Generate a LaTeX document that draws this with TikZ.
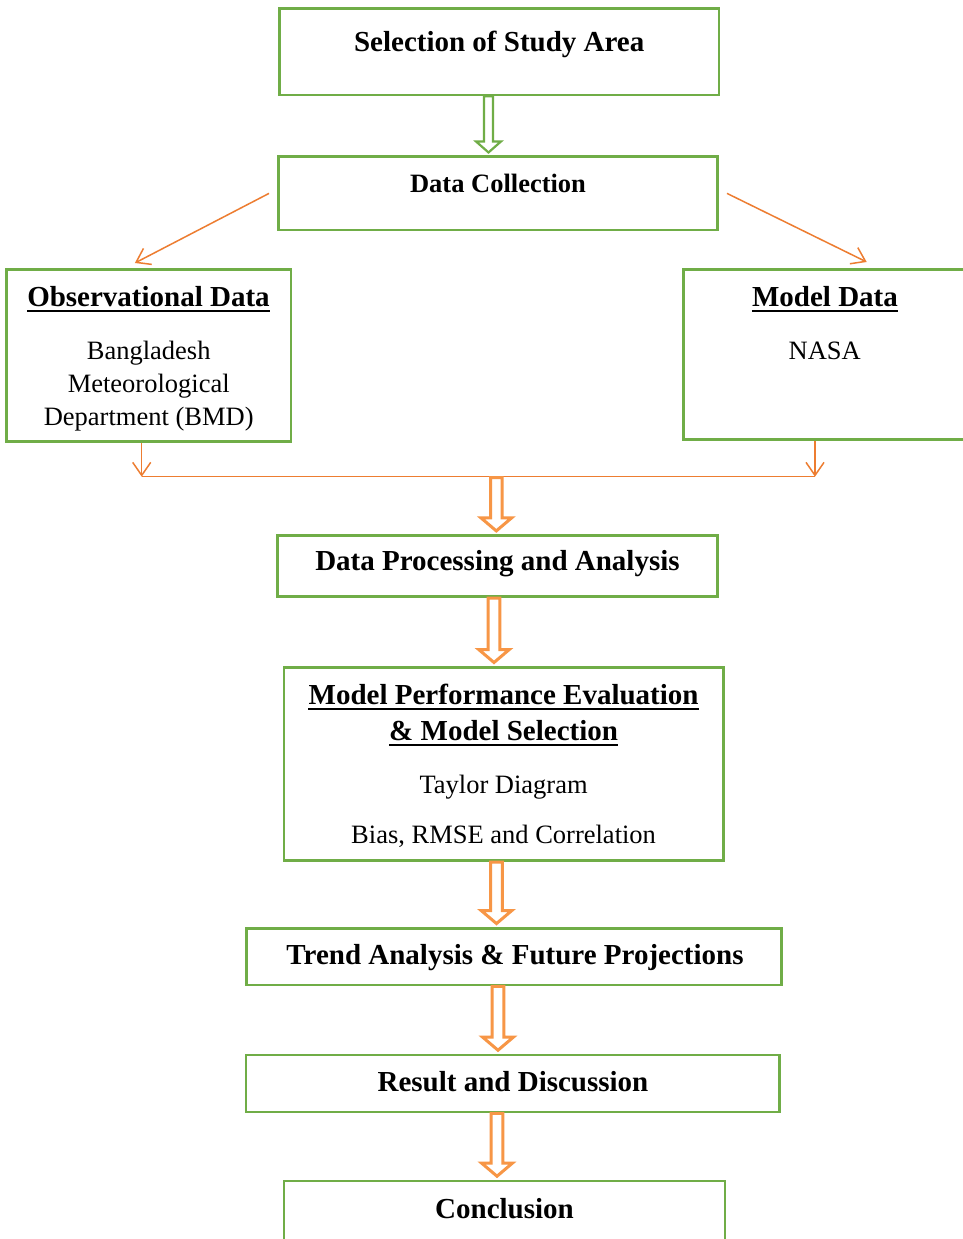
\documentclass[tikz,border=0pt]{standalone}
\usepackage{fontspec}
\setmainfont{Liberation Serif}
\usetikzlibrary{calc,arrows.meta}
\definecolor{boxgreen}{HTML}{70AD47}
\definecolor{thinorange}{HTML}{ED7D31}
\definecolor{fatorange}{HTML}{F79646}
\newcommand\hbig{\fontsize{29}{34}\selectfont\bfseries}
\newcommand\hmid{\fontsize{26.5}{32}\selectfont\bfseries}
\newcommand\rgtext{\fontsize{26.5}{32}\selectfont}
% #1 style, #2 x, #3 start, #4 end, #5 shaft half width, #6 head half width, #7 head length
\newcommand\fatarrow[7]{%
  \draw[#1] let \p1=(#3), \p2=(#4) in
    (#2pt-#5pt,\y1) -- (#2pt-#5pt,\y2+#7pt) -- (#2pt-#6pt,\y2+#7pt) -- (#2pt,\y2)
    -- (#2pt+#6pt,\y2+#7pt) -- (#2pt+#5pt,\y2+#7pt) -- (#2pt+#5pt,\y1) -- cycle;}
\begin{document}
\begin{tikzpicture}[x=1pt,y=-1pt,
  box/.style={draw=boxgreen,line width=2.6pt,fill=white,inner sep=0pt,rectangle},
  txt/.style={inner sep=0pt,anchor=base},
  uline/.style={line width=1.8pt,black},
  thinarr/.style={draw=thinorange,line width=1.5pt,-{Straight Barb[length=13pt,width=18pt]}},
  thinline/.style={draw=thinorange,line width=1.5pt},
  greenfat/.style={draw=boxgreen,line width=2.2pt,fill=white,line join=miter},
  orangefat/.style={draw=fatorange,line width=3pt,fill=white,line join=miter}]
\useasboundingbox (0,0) rectangle (962,1239);
\fill[white] (0,0) rectangle (962,1239);

% boxes
\node[box,minimum width=439.7,minimum height=86.7] (sel) at (499.2,51.7) {};
\node[box,minimum width=439.4,minimum height=73.3] (dc) at (498,193.4) {};
\node[box,minimum width=284.3,minimum height=172.4] (obs) at (148.9,355.5) {};
\node[box,minimum width=282.7,minimum height=170] (md) at (824.7,354.3) {};
\node[box,minimum width=440.4,minimum height=61] (dp) at (497.5,566.2) {};
\node[box,minimum width=439.3,minimum height=193.4] (mp) at (503.7,764) {};
\node[box,minimum width=535,minimum height=56.7] (tr) at (514.2,956.7) {};
\node[box,minimum width=533.3,minimum height=57] (rd) at (512.7,1083.5) {};
\node[box,minimum width=441,minimum height=69] (cc) at (504.5,1215.5) {};

% texts
\node[txt] (tsel) at (499.2,52) {\hbig Selection of Study Area};
\node[txt] (tdc) at (498,192.7) {\hmid Data Collection};
\node[txt] (tobs) at (148.5,306) {\hbig Observational Data};
\draw[uline] ([yshift=-5pt]tobs.base west) -- ([yshift=-5pt]tobs.base east);
\node[txt] (tobs1) at (148.7,359.3) {\rgtext Bangladesh};
\node[txt] (tobs2) at (148.7,392) {\rgtext Meteorological};
\node[txt] (tobs3) at (148.7,425) {\rgtext Department (BMD)};
\node[txt] (tmd) at (825,306) {\hbig Model Data};
\draw[uline] ([yshift=-5pt]tmd.base west) -- ([yshift=-5pt]tmd.base east);
\node[txt] (tmd1) at (824.7,359.3) {\rgtext NASA};
\node[txt] (tdp) at (497.5,570) {\hbig Data Processing and Analysis};
\node[txt] (tmp1) at (503.6,704) {\hbig Model Performance Evaluation};
\draw[uline] ([yshift=-5pt]tmp1.base west) -- ([yshift=-5pt]tmp1.base east);
\node[txt] (tmp2) at (503.6,740) {\hbig \& Model Selection};
\draw[uline] ([yshift=-5pt]tmp2.base west) -- ([yshift=-5pt]tmp2.base east);
\node[txt] (tmp3) at (503.6,793.3) {\rgtext Taylor Diagram};
\node[txt] (tmp4) at (503.6,843.3) {\rgtext Bias, RMSE and Correlation};
\node[txt] (ttr) at (515,964.3) {\hbig Trend Analysis \& Future Projections};
\node[txt] (trd) at (513,1091) {\hbig Result and Discussion};
\node[txt] (tcc) at (504.5,1218.3) {\hbig Conclusion};

% thin orange connectors
\draw[thinarr] ([xshift=-8pt]dc.west) -- ([xshift=-14pt,yshift=5pt]obs.north);
\draw[thinarr] ([xshift=8pt]dc.east) -- ([xshift=42pt,yshift=6pt]md.north);
\coordinate (j1) at (141.7,476.7);
\coordinate (j2) at (815,476.7);
\coordinate (j3) at (496.3,477.7);
\draw[thinarr] ([xshift=-7.2pt]obs.south) -- (j1);
\draw[thinarr] ([xshift=-9.7pt]md.south) -- (j2);
\draw[thinline] (j1) -- (j2);

% block arrows
\fatarrow{greenfat}{488.5}{sel.south}{[yshift=3pt]dc.north}{4.5}{12.5}{11}
\fatarrow{orangefat}{496.3}{j3}{[yshift=3.5pt]dp.north}{5.8}{15.3}{13}
\fatarrow{orangefat}{494}{dp.south}{[yshift=3.5pt]mp.north}{5.8}{15.3}{13}
\fatarrow{orangefat}{496.5}{mp.south}{[yshift=3.5pt]tr.north}{5.8}{15.3}{13}
\fatarrow{orangefat}{498}{tr.south}{[yshift=3.5pt]rd.north}{5.8}{15.3}{13}
\fatarrow{orangefat}{497}{rd.south}{[yshift=3.5pt]cc.north}{5.8}{15.3}{13}
\end{tikzpicture}
\end{document}
